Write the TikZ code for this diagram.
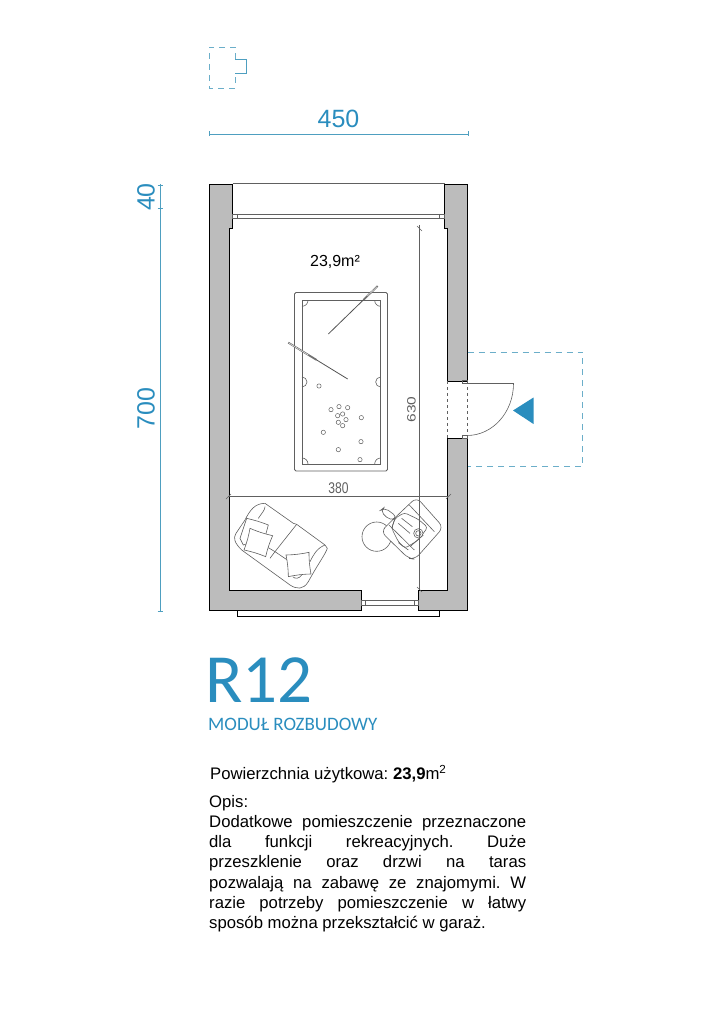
\documentclass[tikz,border=0pt]{standalone}
\usepackage{fontspec}
\setmainfont{Liberation Sans}
\newfontfamily\calibri{Carlito}
\definecolor{niebieski}{HTML}{2A8DBE}
\definecolor{wymiarowy}{HTML}{4E9FC0}
\definecolor{przerywany}{HTML}{6BAEC9}
\definecolor{sciana}{HTML}{BCBCBC}
\definecolor{linia}{HTML}{606060}
\tikzset{
  wymiar/.style={draw=wymiarowy, line width=0.9pt},
  taras/.style={draw=przerywany, line width=1pt, dash pattern=on 6pt off 5pt},
  mur/.style={fill=sciana, draw=black, line width=1pt},
  cienka/.style={draw=linia, line width=0.6pt},
  opis/.style={inner sep=0pt, anchor=north west, align=left, font=\fontsize{16.7}{20.2}\selectfont}
}
\begin{document}
\frenchspacing
\begin{tikzpicture}[x=1pt, y=-1pt]
  \useasboundingbox (0,0) rectangle (724,1024);

  % Mur
  \draw[mur] (209,185) -- (232.5,185) -- (232.5,229) -- (229.5,229) -- (229.5,590) -- (361.5,590) -- (361.5,610.5) -- (209,610.5) -- cycle;
  \draw[mur] (467.5,185) -- (444.5,185) -- (444.5,229) -- (447.5,229) -- (447.5,381) -- (467.5,381) -- cycle;
  \draw[mur] (467.5,438) -- (447.5,438) -- (447.5,590) -- (418.5,590) -- (418.5,610.5) -- (467.5,610.5) -- cycle;

  % Okno gorne
  \draw[cienka] (232.5,183.5) -- (444.5,183.5);
  \draw[cienka] (232.5,214) rectangle (444.5,218);
  \draw[cienka] (237.5,214) -- (237.5,218) (439.5,214) -- (439.5,218);

  % Okno dolne
  \draw[cienka] (361.5,600.5) rectangle (418.5,605);
  \draw[cienka] (365.5,600.5) -- (365.5,605) (414.5,600.5) -- (414.5,605);
  \draw[line width=0.9pt] (237,610.5) -- (237,616) -- (439,616) -- (439,610.5);

  % Drzwi
  \draw[cienka, dashed] (447.5,381) -- (447.5,438) (467.5,381) -- (467.5,438);
  \draw[cienka] (462,380.5) rectangle (467.5,383.5);
  \draw[cienka] (462,438) rectangle (467.5,435.5);
  \draw[cienka] (467.5,383.5) -- (513.5,383.5) arc (0:90:46.5 and 52);
  \fill[niebieski] (513,410.5) -- (533.5,397.5) -- (533.5,424) -- cycle;

  % Taras
  \draw[taras] (467.5,352) -- (582.5,352) -- (582.5,466.5) -- (467.5,466.5);
  \draw[taras, line width=0.9pt] (235,59) -- (235,47) -- (209,47) -- (209,88) -- (235,88) -- (235,74);
  \draw[wymiar] (235,59) -- (246.5,59) -- (246.5,73.5) -- (235,73.5);

  % Stol bilardowy
  \draw[cienka, line width=0.8pt, rounded corners=1.5pt] (294.5,292.5) rectangle (387.5,471);
  \draw[cienka, line width=0.8pt] (302,300.5) rectangle (380.5,464);
  \begin{scope}[shift={(280,270)}, x=0.3333pt, y=-0.3333pt]
    \draw[cienka] (84,91) arc (0:90:18);
    \draw[cienka] (284,91) arc (180:90:18);
    \draw[cienka] (84,582) arc (0:-90:18);
    \draw[cienka] (284,582) arc (180:270:18);
    \draw[cienka] (66,321) arc (-90:90:15);
    \draw[cienka] (302,321) arc (-90:-270:15);
    \foreach \bx/\by in {117/348,153/419,177/410,203/413,173/437,188/432,198/449,175/457,188/467,244/443,130/487,243/515,175/539,240/569}
      \draw[cienka, line width=0.5pt] (\bx,\by) circle (6.5);
    \draw[linia!85!black, line width=0.8pt] (145,192) -- (250,90);
    \draw[linia!90, line width=1.8pt] (250,90) -- (293,48);
    \draw[white, line width=0.4pt] (262,78) -- (291,50);
    \draw[linia!85!black, line width=0.8pt] (203,327) -- (110,270);
    \draw[linia!90, line width=1.8pt] (110,270) -- (25,218);
    \draw[white, line width=0.4pt] (85,255) -- (28,220);
  \end{scope}

  % Kanapa
  \begin{scope}[shift={(200,480)}, x=0.3333pt, y=-0.3333pt]
    \draw[cienka] (135,120) .. controls (150,90) and (165,70) .. (195,70) -- (280,130) -- (290,133) -- (375,195) -- (382,205) .. controls (375,225) and (355,250) .. (325,305) .. controls (310,330) and (290,328) .. (270,315) -- (125,210) .. controls (105,190) and (98,175) .. (108,160) -- cycle;
    \draw[cienka] (195,80) .. controls (195,90) and (185,100) .. (175,115);
    \draw[cienka] (290,133) -- (225,215) -- (200,200);
    \draw[cienka] (225,215) -- (210,235) (225,215) -- (262,240);
    \draw[cienka] (375,195) .. controls (350,205) and (340,225) .. (330,245);
    \draw[cienka] (278,290) .. controls (285,297) and (297,297) .. (305,285);
    \draw[cienka, fill=white] (140,115) to[bend left=4] (205,135) -- (195,172) -- (130,195) -- (120,175) -- cycle;
    \draw[cienka, fill=white] (150,145) to[bend right=5] (218,167) to[bend right=5] (197,230) to[bend right=5] (132,210) to[bend right=5] cycle;
    \draw[cienka, fill=white] (258,225) to[bend right=5] (327,217) to[bend right=5] (333,282) to[bend right=5] (265,290) to[bend right=5] cycle;
  \end{scope}

  % Fotel
  \begin{scope}[shift={(355,490)}, x=0.3333pt, y=-0.3333pt]
    \draw[cienka] (65,140) circle (44);
    \draw[cienka, fill=white, rounded corners=6pt] (185,22) -- (265,112) -- (180,208) -- (160,205) -- (78,125) -- (100,102) -- (160,45) -- cycle;
    \draw[cienka] (163,45) -- (238,125) (102,105) -- (178,180);
    \draw[cienka, rounded corners=3pt] (120,85) -- (148,68) -- (190,88) -- (218,112) -- (190,150) -- (150,175) -- (130,155) -- (110,115) -- cycle;
    \draw[cienka, rounded corners=5pt] (75,62) -- (88,52) -- (128,82) -- (105,92) -- cycle;
    \draw[cienka] (140,85) -- (172,110) (130,100) -- (165,130) (120,85) -- (110,115);
    \draw[cienka, fill=white] (190,130) circle (14);
    \draw[cienka] (190,130) circle (8);
    \draw[cienka] (130,158) -- (160,180) (165,170) -- (205,135);
  \end{scope}

  % Wymiary zewnetrzne
  \draw[wymiar] (209,134) -- (468,134);
  \draw[wymiar] (209,131.5) -- (209,136.5) (468,131.5) -- (468,136.5);
  \draw[wymiar] (160,184) -- (160,611);
  \draw[wymiar] (157.5,185) -- (162.5,185) (157.5,208.5) -- (162.5,208.5) (157.5,611) -- (162.5,611);
  \node[text=niebieski, font=\fontsize{25}{25}\selectfont] (szer) at (338.5,118.5) {450};
  \node[text=niebieski, font=\fontsize{25}{25}\selectfont, rotate=90] (wys) at (146,408.5) {700};
  \node[text=niebieski, font=\fontsize{25}{25}\selectfont, rotate=90] (wys40) at (146,197) {40};

  % Wymiary wewnetrzne
  \draw[cienka] (419.5,225) -- (419.5,590);
  \draw[cienka] (417,226) -- (422,231) (417,587) -- (422,592);
  \draw[cienka] (228,496) -- (448,496);
  \draw[cienka] (226,499) -- (231,494) (446,499) -- (451,494);
  \node[text=linia, font=\fontsize{15.5}{15.5}\selectfont, xscale=0.78] (dl380) at (338.5,488) {380};
  \node[text=linia, font=\fontsize{15.5}{15.5}\selectfont, xscale=0.78, rotate=90] (dl630) at (411.5,409.5) {630};
  \node[font=\fontsize{16}{16}\selectfont] (pole) at (335,262) {23,9m²};

  % Tytul
  \node[inner sep=0pt, anchor=base west, text=niebieski, font=\calibri\fontsize{69}{69}\selectfont] (tytul) at (205,702.7) {R12};
  \node[inner sep=0pt, anchor=base west, text=niebieski, font=\calibri\fontsize{19}{19}\selectfont] (modul) at (208,730.7) {MODUŁ ROZBUDOWY};

  % Opis
  \node[opis] (pow) at (210,765) {Powierzchnia użytkowa: \textbf{23,9}m\textsuperscript{2}};
  \node[opis] (tekst) at (209,795) {Opis:\\
    \makebox[317pt][s]{Dodatkowe pomieszczenie przeznaczone}\\
    \makebox[317pt][s]{dla funkcji rekreacyjnych. Duże}\\
    \makebox[317pt][s]{przeszklenie oraz drzwi na taras}\\
    \makebox[317pt][s]{pozwalają na zabawę ze znajomymi. W}\\
    \makebox[317pt][s]{razie potrzeby pomieszczenie w łatwy}\\
    sposób można przekształcić w garaż.};
\end{tikzpicture}
\end{document}
